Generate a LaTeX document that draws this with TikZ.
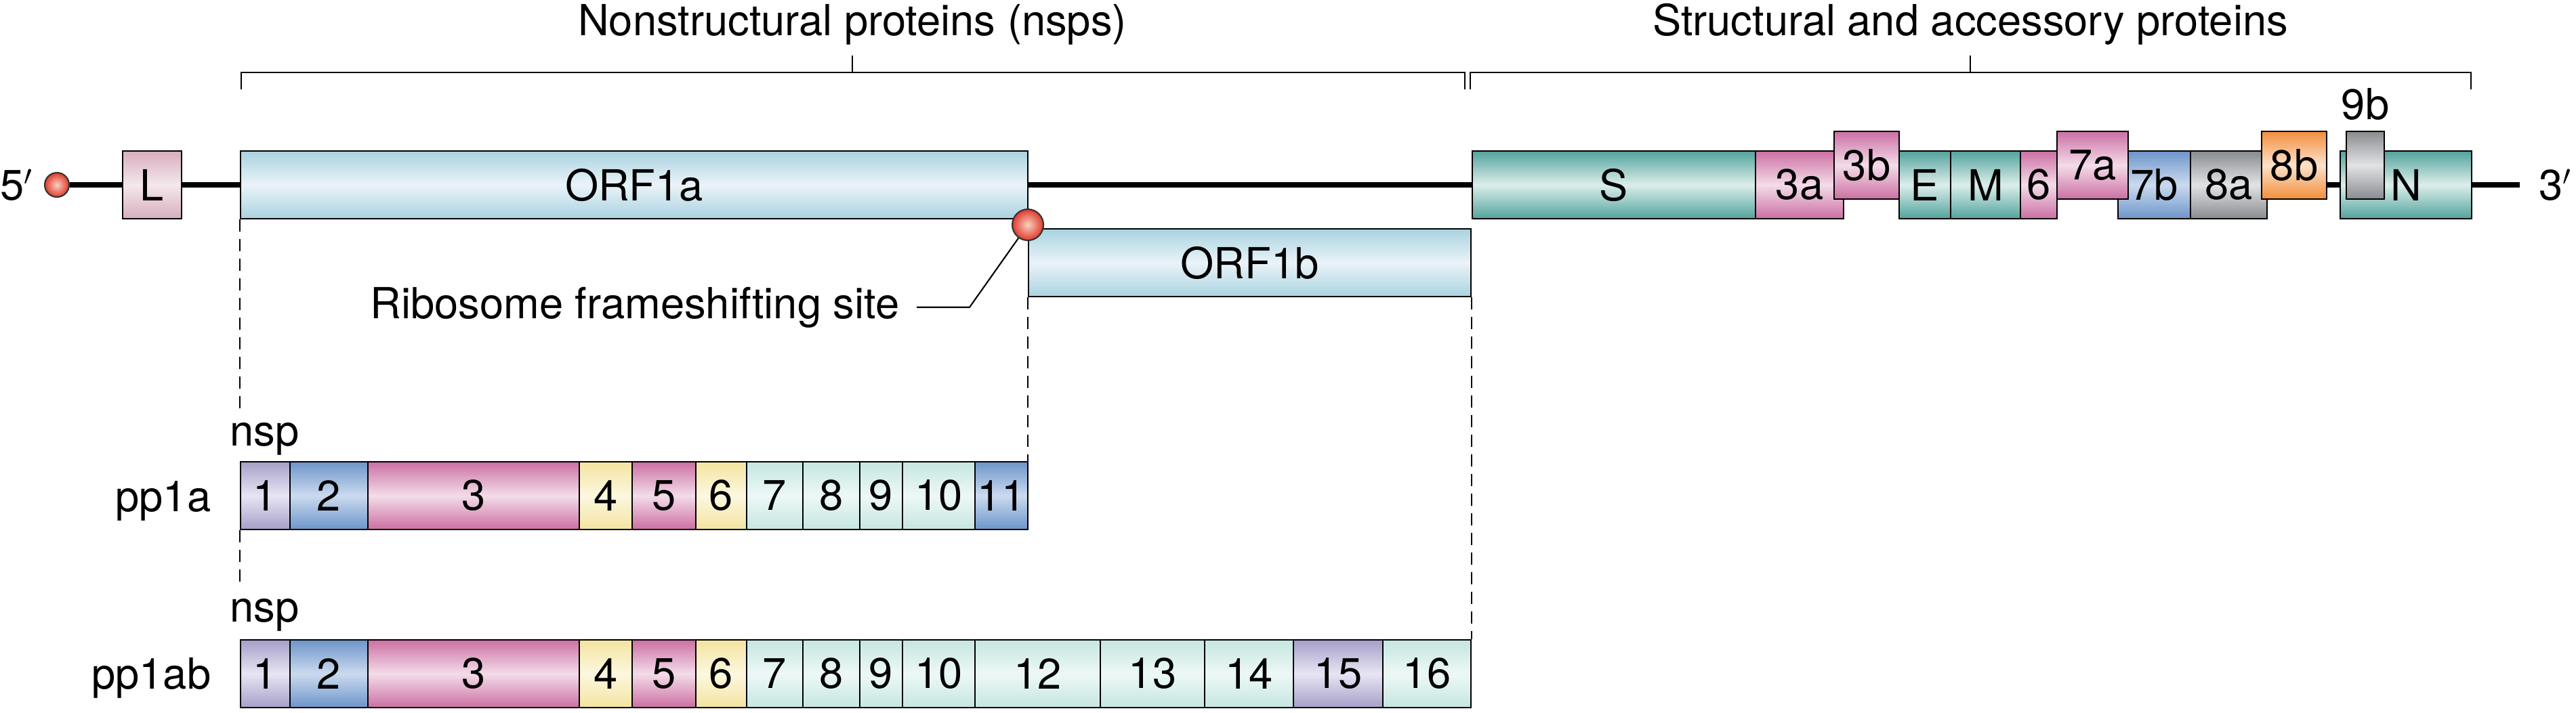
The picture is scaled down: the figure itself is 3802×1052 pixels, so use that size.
\documentclass[tikz,border=0pt]{standalone}
\usepackage{fontspec}
\setmainfont{TeX Gyre Heros}
\usetikzlibrary{positioning}
% edge (E) and centre (C) colour of every band
\definecolor{orfE}{HTML}{A9D3E0}\definecolor{orfC}{HTML}{EAF3F8}
\definecolor{tealE}{HTML}{52A39C}\definecolor{tealC}{HTML}{DCEEEB}
\definecolor{pinkE}{HTML}{CC6FA3}\definecolor{pinkC}{HTML}{F3DCE9}
\definecolor{blueE}{HTML}{6D95C9}\definecolor{blueC}{HTML}{CBDAEF}
\definecolor{lavE}{HTML}{A69FC9}\definecolor{lavC}{HTML}{E7E5F3}
\definecolor{yelE}{HTML}{F4E4A0}\definecolor{yelC}{HTML}{FCF7DF}
\definecolor{mintE}{HTML}{C5E6E1}\definecolor{mintC}{HTML}{EDF8F6}
\definecolor{grayE}{HTML}{888B8F}\definecolor{grayC}{HTML}{E2E3E5}
\definecolor{oraE}{HTML}{F28E3C}\definecolor{oraC}{HTML}{FDE2CA}
\definecolor{leadE}{HTML}{D8ADBE}\definecolor{leadC}{HTML}{F3E8EC}
\definecolor{capE}{HTML}{DD3A2C}\definecolor{capC}{HTML}{FAD0C0}
% one gene / nsp box: name, left, right, y, colour, label
\newcommand{\gene}[6]{
	\node[box, band=#5, minimum width={(#3-#2)*0.1mm}] (#1) at ({(#2+#3)/2},#4) {#6};
	}

\begin{document}
\begin{tikzpicture}[
      x=0.1mm, y=-0.1mm, %one unit is one pixel of the figure
      every node/.style={font=\fontsize{18}{21}\selectfont},
      box/.style={draw=black, line width=0.8pt, inner sep=0pt, minimum height=10mm},
      band/.style={top color=#1E, bottom color=#1E, middle color=#1C},
      rna/.style={line width=0.85mm},
      brace/.style={line width=0.8pt},
      guide/.style={line width=0.6pt, dash pattern=on 1.8mm off 1.1mm},
      leader/.style={line width=0.6pt},
      capdot/.style={circle, draw=black!80, line width=0.6pt, inner sep=0pt, inner color=capC, outer color=capE}
    ]
    \useasboundingbox (0,0) rectangle (3802,1052);
    % Headers and brackets
    \node[anchor=base] (nsHead) at (1258,52) {Nonstructural proteins (nsps)};
    \node[anchor=base] (stHead) at (2908,52) {Structural and accessory proteins};
    \draw[brace] (356,132) -- (356,107) -- (2162,107) -- (2162,132);
    \draw[brace] (1258,107) -- (1258,82);
    \draw[brace] (2170,132) -- (2170,107) -- (3647,107) -- (3647,132);
    \draw[brace] (2908,107) -- (2908,82);
    % Draw the genome
    \node[capdot, minimum size=3.6mm] (cap5) at (84,273) {};
    \node[inner sep=0pt, left=1.5mm of cap5] (p5) {5$'$};
    \coordinate (end3) at (3719,273);
    \node[inner sep=0pt, right=2.8mm of end3] (p3) {3$'$};
    \gene{Lbox}{181}{268}{273}{lead}{L};
    \gene{orf1a}{355}{1517}{273}{orf}{ORF1a};
    \gene{orf1b}{1518}{2171}{388}{orf}{ORF1b};
    \gene{S}{2173}{2591}{273}{teal}{S};
    \gene{g3a}{2591}{2721}{273}{pink}{3a};
    \gene{g3b}{2707}{2803}{244}{pink}{3b};
    \gene{E}{2803}{2879}{273}{teal}{E};
    \gene{M}{2879}{2982}{273}{teal}{M};
    \gene{g6}{2982}{3036}{273}{pink}{6};
    \gene{g7b}{3126}{3233}{273}{blue}{7b};
    \gene{g7a}{3036}{3141}{244}{pink}{7a};
    \gene{g8a}{3233}{3346}{273}{gray}{8a};
    \gene{g8b}{3338}{3434}{244}{ora}{8b};
    \gene{N}{3454}{3648}{273}{teal}{N};
    \gene{g9b}{3463}{3519}{244}{gray}{};
    \node[inner sep=0pt, above=1.4mm of g9b] (l9b) {9b};
    \draw[rna] (cap5) -- (Lbox);
    \draw[rna] (Lbox) -- (orf1a);
    \draw[rna] (orf1a) -- (S);
    \draw[rna] (g8b.east |- N.west) -- (N.west);
    \draw[rna] (N) -- (end3);
    % frameshifting site
    \node[capdot, minimum size=4.6mm] (fs) at (1517,332) {};
    \node[anchor=base east, inner sep=0pt] (ribo) at (1328,470) {Ribosome frameshifting site};
    \draw[leader] ([xshift=2.5mm]ribo.east) -- ++(78,0) -- (fs);
    % Draw pp1a
    \node[anchor=base west, inner sep=0pt] (nspA) at (339,658) {nsp};
    \node[anchor=base east, inner sep=0pt] (pp1a) at (312,755) {pp1a};
    \gene{a1}{355}{428}{732}{lav}{1};
    \gene{a2}{428}{543}{732}{blue}{2};
    \gene{a3}{543}{855}{732}{pink}{3};
    \gene{a4}{855}{933}{732}{yel}{4};
    \gene{a5}{933}{1027}{732}{pink}{5};
    \gene{a6}{1027}{1102}{732}{yel}{6};
    \gene{a7}{1102}{1185}{732}{mint}{7};
    \gene{a8}{1185}{1269}{732}{mint}{8};
    \gene{a9}{1269}{1332}{732}{mint}{9};
    \gene{a10}{1332}{1439}{732}{mint}{10};
    \gene{a11}{1439}{1517}{732}{blue}{11};
    % Draw pp1ab
    \node[anchor=base west, inner sep=0pt] (nspB) at (339,918) {nsp};
    \node[anchor=base east, inner sep=0pt] (pp1ab) at (312,1017) {pp1ab};
    \gene{b1}{355}{428}{995}{lav}{1};
    \gene{b2}{428}{543}{995}{blue}{2};
    \gene{b3}{543}{855}{995}{pink}{3};
    \gene{b4}{855}{933}{995}{yel}{4};
    \gene{b5}{933}{1027}{995}{pink}{5};
    \gene{b6}{1027}{1102}{995}{yel}{6};
    \gene{b7}{1102}{1185}{995}{mint}{7};
    \gene{b8}{1185}{1269}{995}{mint}{8};
    \gene{b9}{1269}{1332}{995}{mint}{9};
    \gene{b10}{1332}{1439}{995}{mint}{10};
    \gene{b12}{1439}{1624}{995}{mint}{12};
    \gene{b13}{1624}{1778}{995}{mint}{13};
    \gene{b14}{1778}{1909}{995}{mint}{14};
    \gene{b15}{1909}{2041}{995}{lav}{15};
    \gene{b16}{2041}{2171}{995}{mint}{16};
    % dashed guides
    \draw[guide] (orf1a.south west) -- ([yshift=1.2mm]orf1a.south west |- nspA.north);
    \draw[guide] (a1.south west) -- ([yshift=2mm]a1.south west |- nspB.north);
    \draw[guide] (orf1b.south west) -- (orf1b.south west |- a11.north);
    \draw[guide] (orf1b.south east) -- (orf1b.south east |- b16.north);
    \end{tikzpicture}
\end{document}
